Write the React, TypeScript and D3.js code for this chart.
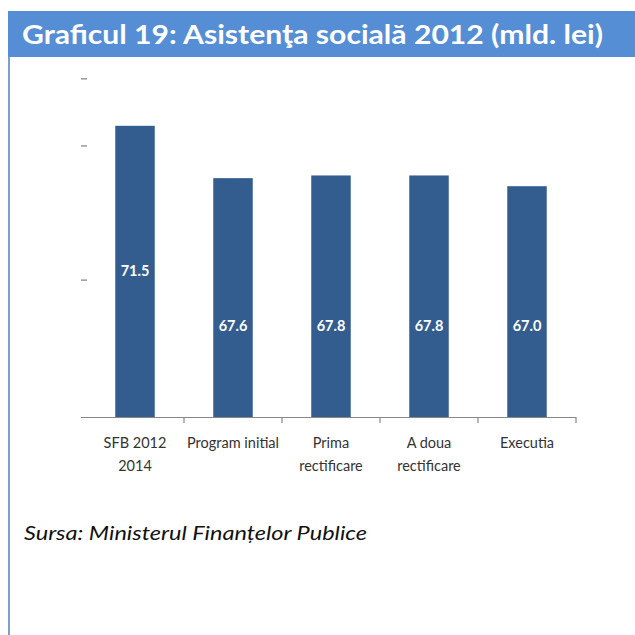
import React from "react";
import * as d3 from "d3";

const categories: string[][] = [
  ["SFB 2012", "2014"],
  ["Program initial"],
  ["Prima", "rectificare"],
  ["A doua", "rectificare"],
  ["Executia"],
];
const values: number[] = [71.5, 67.6, 67.8, 67.8, 67.0];
const valueLabels: string[] = ["71.5", "67.6", "67.8", "67.8", "67.0"];
const yTicks: number[] = [60, 70, 75];
const title = "Graficul 19: Asistenţa socială 2012 (mld. lei)";
const source = "Sursa: Ministerul Finanțelor Publice";

export default function App() {
  const W = 635, H = 635;
  const baseY = 417;
  const x = d3.scaleBand<number>().domain(d3.range(values.length)).range([86, 576]).padding(0);
  const y = d3.scaleLinear().domain([49.8, 75.1]).range([baseY, 77.5]);
  const barW = 39.5;
  const barColor = "#335D8F";
  const font = "Lato, 'Open Sans', sans-serif";

  return (
    <svg width={W} height={H} style={{ position: "absolute", left: 0, top: 0, background: "#fff" }}>
      {/* title bar */}
      <rect x={8} y={11} width={W - 8} height={46} fill="#558ED5" />
      <text x={22} y={44} fill="#fff" fontFamily={font} fontWeight={700} fontSize={27}
        textLength={581} lengthAdjust="spacingAndGlyphs">{title}</text>
      {/* left border */}
      <line x1={9} x2={9} y1={57} y2={H} stroke="#4F81BD" strokeWidth={1.5} />

      {/* y tick dashes */}
      {yTicks.map((t) => (
        <line key={t} x1={81} x2={87} y1={y(t)} y2={y(t)} stroke="#888" strokeWidth={1.3} />
      ))}

      {/* bars */}
      {values.map((v, i) => {
        const cx = (x(i) as number) + x.bandwidth() / 2;
        return (
          <rect key={i} x={cx - barW / 2} y={y(v)} width={barW} height={baseY - y(v)} fill={barColor} />
        );
      })}

      {/* value labels */}
      {values.map((v, i) => {
        const cx = (x(i) as number) + x.bandwidth() / 2;
        const ly = i === 0 ? (y(v) + baseY) / 2 : y(56.6);
        return (
          <text key={i} x={cx} y={ly + 5} textAnchor="middle" fill="#fff" fontFamily={font}
            fontWeight={700} fontSize={14.5}>{valueLabels[i]}</text>
        );
      })}

      {/* x axis */}
      <line x1={81} x2={576} y1={baseY + 0.5} y2={baseY + 0.5} stroke="#888" strokeWidth={1.2} />
      {values.map((_, i) => {
        const tx = (x(i) as number) + x.bandwidth();
        return <line key={i} x1={tx} x2={tx} y1={baseY} y2={baseY + 6} stroke="#888" strokeWidth={1.2} />;
      })}

      {/* category labels */}
      {categories.map((lines, i) => {
        const cx = (x(i) as number) + x.bandwidth() / 2;
        return (
          <text key={i} x={cx} textAnchor="middle" fill="#333" fontFamily={font} fontSize={14.5}>
            {lines.map((l, j) => (
              <tspan key={j} x={cx} y={448 + j * 23}>{l}</tspan>
            ))}
          </text>
        );
      })}

      {/* source */}
      <text x={24} y={540} fill="#111" fontFamily={font} fontStyle="italic" fontSize={19}
        textLength={343} lengthAdjust="spacingAndGlyphs">{source}</text>
    </svg>
  );
}
